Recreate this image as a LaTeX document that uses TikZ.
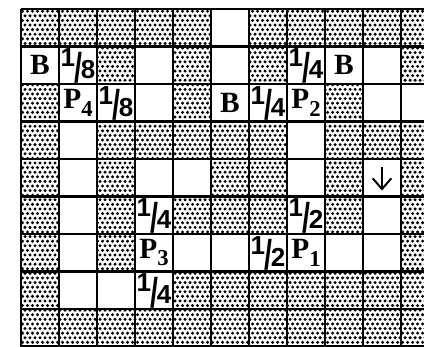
\documentclass[tikz,border=0pt]{standalone}
\usepackage{fontspec}
\setmainfont{Liberation Serif}
\setsansfont{Liberation Sans}
\usetikzlibrary{arrows.meta}

\newcommand{\frc}[2]{\raisebox{0pt}[20pt][0pt]{\sffamily\fontsize{19.5}{19.5}\selectfont\raisebox{9pt}{#1}\kern-0.8pt\raisebox{-2.8pt}{\scalebox{1.1}[1.6]{/}}\kern-0.8pt#2}}
\newcommand{\pnt}[1]{\textbf{P}\raisebox{-5.5pt}{\fontsize{17}{17}\selectfont #1}}

\begin{document}
\begin{tikzpicture}[x=1cm,y=0.987cm,
	cell/.style={font=\fontsize{22}{22}\selectfont\bfseries, inner sep=0pt},
	gridline/.style={line width=1.7pt, black}]
		%fix picture size
		\useasboundingbox (-0.5526,0.24) rectangle (10.605,-8.987);
		\clip (-0.5526,0.24) rectangle (10.605,-8.987);
		\fill[white] (-0.5526,0.24) rectangle (10.605,-8.987);
		%draw dots
		\foreach \j in {0,...,73} {
			\fill[black] \foreach \i in {0,...,80} {
				({0.0658*mod(\j,2)+0.1316*\i+0.04},{-0.1226*\j-0.06}) circle (1.25pt)
			};
		}
		%draw open cells
		\foreach \c/\r in {5/0, 0/1,1/1,3/1,5/1,7/1,8/1,9/1, 1/2,2/2,3/2,5/2,6/2,7/2,9/2,10/2,
			1/3,7/3, 1/4,3/4,4/4,7/4,9/4, 1/5,3/5,7/5,9/5,
			1/6,3/6,4/6,5/6,6/6,7/6,8/6,9/6, 1/7,2/7,3/7}
			\fill[white] (\c,-\r) rectangle ++(1,-1);
		%draw grid
		\foreach \c in {0,...,11} \draw[gridline] (\c,0) -- (\c,-9);
		\foreach \r in {0,...,9} \draw[gridline] (0,-\r) -- (11,-\r);
		%draw labels
		\node[cell] (b1) at (0.5,-1.5) {B};
		\node[cell] (e1) at (1.5,-1.5) {\frc{1}{8}};
		\node[cell] (q1) at (7.5,-1.5) {\frc{1}{4}};
		\node[cell] (b2) at (8.5,-1.5) {B};
		\node[cell] (p4) at (1.5,-2.5) {\pnt{4}};
		\node[cell] (e2) at (2.5,-2.5) {\frc{1}{8}};
		\node[cell] (b3) at (5.5,-2.5) {B};
		\node[cell] (q2) at (6.5,-2.5) {\frc{1}{4}};
		\node[cell] (p2) at (7.5,-2.5) {\pnt{2}};
		\node[cell] (q3) at (3.5,-5.5) {\frc{1}{4}};
		\node[cell] (h1) at (7.5,-5.5) {\frc{1}{2}};
		\node[cell] (p3) at (3.5,-6.5) {\pnt{3}};
		\node[cell] (h2) at (6.5,-6.5) {\frc{1}{2}};
		\node[cell] (p1) at (7.5,-6.5) {\pnt{1}};
		\node[cell] (q4) at (3.5,-7.5) {\frc{1}{4}};
		%draw arrow
		\coordinate (arrtop) at (9.5,-4.22);
		\coordinate (arrbot) at (9.5,-4.84);
		\draw[line width=1.5pt, -{Straight Barb[length=8pt,width=14pt]}] (arrtop) -- (arrbot);
	\end{tikzpicture}
\end{document}
